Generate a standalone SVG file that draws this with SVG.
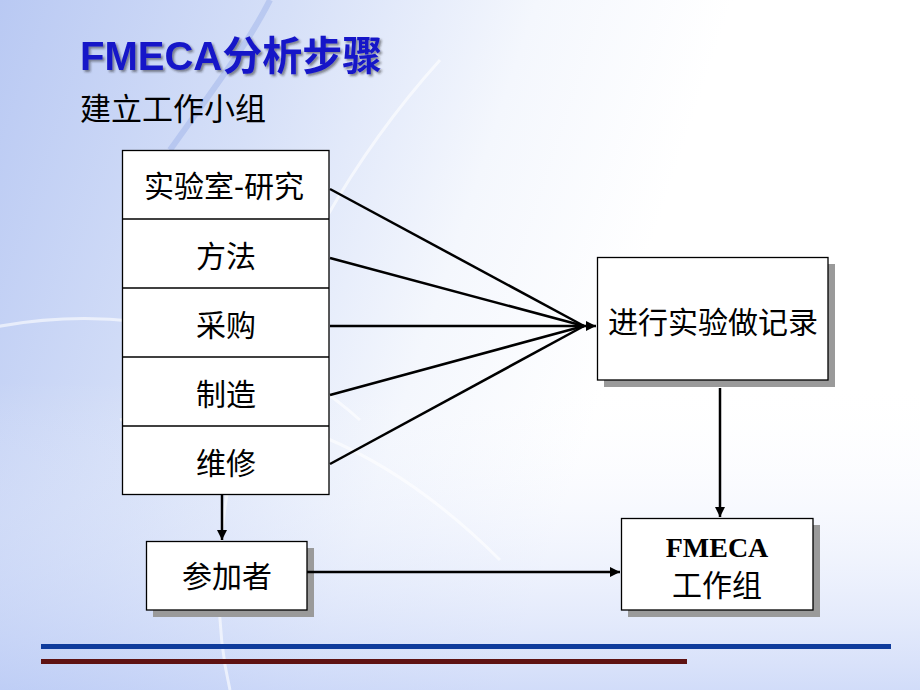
<svg xmlns="http://www.w3.org/2000/svg" width="920" height="690" viewBox="0 0 920 690">
<defs>
<linearGradient id="bg" x1="0" y1="0" x2="1" y2="0.25">
<stop offset="0" stop-color="#b9c9f3"/>
<stop offset="0.3" stop-color="#d6e0f8"/>
<stop offset="0.55" stop-color="#f4f7fd"/>
<stop offset="0.75" stop-color="#ffffff"/>
</linearGradient>
<linearGradient id="bgb" x1="0" y1="0" x2="0" y2="1">
<stop offset="0.55" stop-color="#ffffff" stop-opacity="0"/>
<stop offset="1" stop-color="#b3c5f5" stop-opacity="0.6"/>
</linearGradient>
<filter id="tsh" x="-5%" y="-20%" width="110%" height="150%">
<feDropShadow dx="2" dy="2" stdDeviation="0.8" flood-color="#222" flood-opacity="0.5"/>
</filter>
<marker id="ah" viewBox="0 0 10 10" refX="10" refY="5" markerWidth="4" markerHeight="4" orient="auto" markerUnits="strokeWidth">
<path d="M0,0 L10,5 L0,10 z" fill="#000"/>
</marker>
<style>
.box{fill:#fff;stroke:#000;stroke-width:1.3}
.sh{fill:#9a9a9a}
.cj{font-family:"Liberation Sans","Noto Sans CJK SC",sans-serif;font-size:30px;fill:#000;text-anchor:middle}
.ln{stroke:#000;stroke-width:2.5;fill:none}
</style>
</defs>
<rect width="920" height="690" fill="url(#bg)"/>
<rect width="920" height="690" fill="url(#bgb)"/>
<g fill="none" stroke="#ffffff" stroke-opacity="0.6" stroke-width="3">
<path d="M-20,330 C120,300 260,330 360,420"/>
<path d="M230,690 C190,520 260,260 440,60"/>
<path d="M120,420 C260,380 400,460 500,560"/>
</g>
<g fill="none" stroke="#9fb4ea" stroke-opacity="0.5" stroke-width="6">
<path d="M170,150 C220,80 250,40 270,0"/>
</g>
<g id="title">
<text x="80" y="70" font-family="Liberation Sans,'Noto Sans CJK SC',sans-serif" font-size="40" font-weight="bold" fill="#1414c8" filter="url(#tsh)">FMECA分析步骤</text>
<text x="80" y="120" font-family="Liberation Sans,'Noto Sans CJK SC',sans-serif" font-size="31" fill="#000">建立工作小组</text>
</g>
<g id="stack">
<rect class="box" x="122.5" y="150.5" width="206.5" height="344"/>
<line x1="122.5" y1="219" x2="329" y2="219" stroke="#000" stroke-width="1.3"/>
<line x1="122.5" y1="288" x2="329" y2="288" stroke="#000" stroke-width="1.3"/>
<line x1="122.5" y1="357" x2="329" y2="357" stroke="#000" stroke-width="1.3"/>
<line x1="122.5" y1="426" x2="329" y2="426" stroke="#000" stroke-width="1.3"/>
<text class="cj" x="224" y="197">实验室-研究</text>
<text class="cj" x="226" y="267">方法</text>
<text class="cj" x="226" y="336">采购</text>
<text class="cj" x="226" y="405">制造</text>
<text class="cj" x="226" y="474">维修</text>
</g>
<g id="participants">
<rect class="sh" x="153" y="548" width="161" height="69"/>
<rect class="box" x="146.5" y="541.5" width="160.5" height="68.5"/>
<text class="cj" x="227" y="587">参加者</text>
</g>
<g id="experiment">
<rect class="sh" x="604" y="264" width="231" height="123"/>
<rect class="box" x="597.5" y="257.5" width="230.5" height="122.5"/>
<text class="cj" x="713" y="333" font-size="31">进行实验做记录</text>
</g>
<g id="team">
<rect class="sh" x="628" y="525" width="192" height="92"/>
<rect class="box" x="621.5" y="518.5" width="191.5" height="91.5"/>
<text x="717" y="557" font-family="Liberation Serif,serif" font-weight="bold" font-size="28" text-anchor="middle">FMECA</text>
<text class="cj" x="717" y="596">工作组</text>
</g>
<g id="connectors">
<line class="ln" x1="330" y1="189" x2="584" y2="326"/>
<line class="ln" x1="330" y1="258" x2="584" y2="326"/>
<line class="ln" x1="330" y1="395" x2="584" y2="326"/>
<line class="ln" x1="330" y1="464" x2="584" y2="326"/>
<line class="ln" x1="330" y1="326" x2="596" y2="326" marker-end="url(#ah)"/>
<line class="ln" x1="720" y1="388" x2="720" y2="517" marker-end="url(#ah)"/>
<line class="ln" x1="222" y1="495" x2="222" y2="540" marker-end="url(#ah)"/>
<line class="ln" x1="307" y1="572" x2="620" y2="572" marker-end="url(#ah)"/>
</g>
<g id="rules">
<rect x="41" y="644" width="850" height="5" fill="#0f3c9c"/>
<rect x="41" y="659" width="646" height="5" fill="#5e1212"/>
</g>
</svg>
